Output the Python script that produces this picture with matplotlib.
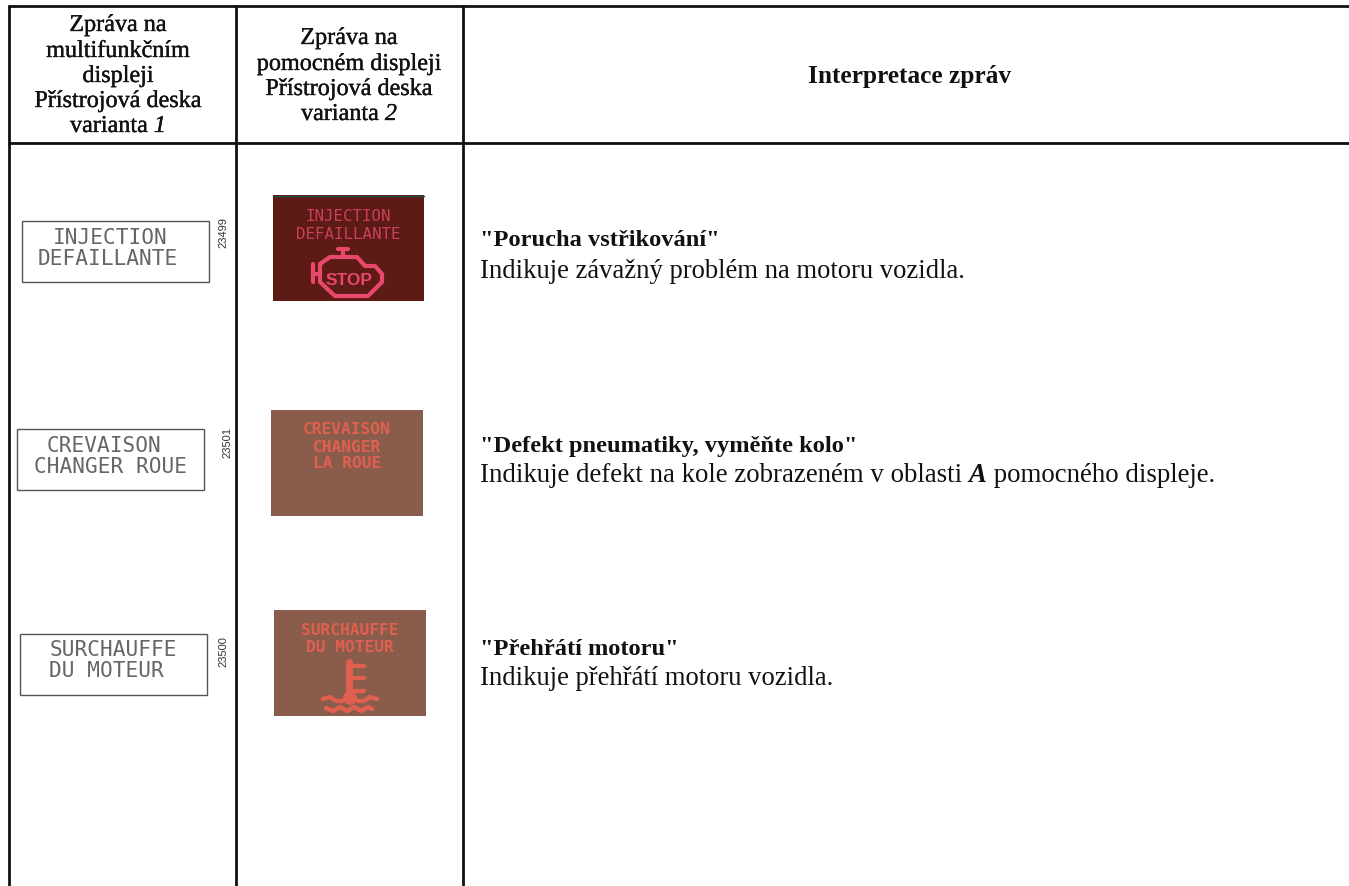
import matplotlib
matplotlib.use('Agg')
import matplotlib.pyplot as plt
import matplotlib.patheffects as pe
from matplotlib.patches import Rectangle, Circle

plt.rcParams['font.family'] = ['Liberation Serif', 'DejaVu Serif']

W, H = 1349, 887
BODY = 19.2
TITLE = 17.6
HEAD = 17.4
INK = '#111111'
SEMI = [pe.withStroke(linewidth=0.25, foreground=INK)]

header_1 = ['Zpráva na', 'multifunkčním', 'displeji', 'Přístrojová deska']
header_2 = ['Zpráva na', 'pomocném displeji', 'Přístrojová deska']
header_3 = 'Interpretace zpráv'
variant_word = 'varianta '
variant_nums = ['1', '2']
titles = ['"Porucha vstřikování"', '"Defekt pneumatiky, vyměňte kolo"', '"Přehřátí motoru"']
body_1 = 'Indikuje závažný problém na motoru vozidla.'
body_2a = 'Indikuje defekt na kole zobrazeném v oblasti '
body_2b = 'A'
body_2c = ' pomocného displeje.'
body_3 = 'Indikuje přehřátí motoru vozidla.'
mono_lines = [['INJECTION', 'DEFAILLANTE'], ['CREVAISON', 'CHANGER ROUE'], ['SURCHAUFFE', 'DU MOTEUR']]
panel_lines = [['INJECTION', 'DEFAILLANTE'], ['CREVAISON', 'CHANGER', 'LA ROUE'], ['SURCHAUFFE', 'DU MOTEUR']]
serials = ['23499', '23501', '23500']

fig = plt.figure(figsize=(W / 100, H / 100), dpi=100)
ax = fig.add_axes([0, 0, 1, 1])
ax.set_xlim(0, W)
ax.set_ylim(H, 0)
ax.axis('off')


def width(s, **kw):
    r = fig.canvas.get_renderer()
    t = ax.text(0, 0, s + '|', **kw)
    a = t.get_window_extent(r).width
    t.set_text('|')
    b = t.get_window_extent(r).width
    t.remove()
    return a - b


def runs(x, y, parts, effects=None):
    for s, kw in parts:
        ax.text(x, y, s, va='baseline', ha='left', color=INK, path_effects=effects, **kw)
        x += width(s, **kw)


def centred_variant(xc, y, num):
    a = dict(fontsize=HEAD)
    b = dict(fontsize=HEAD, fontstyle='italic')
    w = width(variant_word, **a) + width(num, **b)
    runs(xc - w / 2, y, [(variant_word, a), (num, b)], SEMI)


# table rules
for x in [9, 236, 463]:
    ax.plot([x, x], [6, H], color=INK, lw=2.0, solid_capstyle='butt')
for y in [7, 144]:
    ax.plot([8, W], [y, y], color=INK, lw=2.0, solid_capstyle='butt')

# header
for y, s in zip([32, 58, 83, 108], header_1):
    ax.text(118, y, s, ha='center', va='baseline', fontsize=HEAD, color=INK, path_effects=SEMI)
centred_variant(118, 133, variant_nums[0])
for y, s in zip([45, 71, 96], header_2):
    ax.text(349, y, s, ha='center', va='baseline', fontsize=HEAD, color=INK, path_effects=SEMI)
centred_variant(349, 121, variant_nums[1])
ax.text(910, 83, header_3, ha='center', va='baseline', fontsize=18.3, fontweight='bold', color=INK)

# right column
for y, s in zip([246, 452, 655], titles):
    ax.text(480, y, s, va='baseline', fontsize=TITLE, fontweight='bold', color=INK)
ax.text(480, 278, body_1, va='baseline', fontsize=BODY, color=INK)
runs(480, 482, [(body_2a, dict(fontsize=19.4)),
                (body_2b, dict(fontsize=19.4, fontweight='bold', fontstyle='italic')),
                (body_2c, dict(fontsize=19.4))])
ax.text(480, 685, body_3, va='baseline', fontsize=BODY, color=INK)

# white display boxes
boxes = [(22, 222), (17, 430), (20, 635)]
text_x = [[110, 108], [104, 110], [113, 106]]
mono_base = [[244, 265], [452, 473], [656, 677]]
serial_pos = [(223, 233), (227, 443), (223, 652)]
for (bx, by), xs, bases, lines in zip(boxes, text_x, mono_base, mono_lines):
    ax.add_patch(Rectangle((bx, by), 187, 61, fc='white', ec='#555555', lw=1.0))
    for tx, b, s in zip(xs, bases, lines):
        ax.text(tx, b, s, ha='center', va='baseline', family='DejaVu Sans Mono', fontsize=15.2, color='#666666')
for (sx, sy), s in zip(serial_pos, serials):
    ax.text(sx, sy, s, rotation=90, ha='center', va='center', family='Liberation Sans', fontsize=8, color='#333333')

# coloured panels
panels = [(273, 196, 151, 106), (271, 411, 152, 106), (274, 611, 152, 106)]
panel_col = ['#5e1b15', '#8a5c4b', '#8a5c4b']
ink_col = ['#c9405c', '#e0604f', '#e0604f']
panel_bases = [[221, 239], [434, 452, 468], [635, 652]]
panel_size = [11.3, 11.7, 11.7]
panel_weight = ['normal', 'bold', 'bold']
for (px, py, pw, ph), pc, ic, bases, lines, sz, wt in zip(panels, panel_col, ink_col, panel_bases,
                                                          panel_lines, panel_size, panel_weight):
    ax.add_patch(Rectangle((px, py), pw, ph, fc=pc, ec='none'))
    for b, s in zip(bases, lines):
        ax.text(px + pw / 2, b, s, ha='center', va='baseline', family='DejaVu Sans Mono',
                fontweight=wt, fontsize=sz, color=ic)
ax.plot([273, 424], [196.5, 196.5], color='#1f4a48', lw=1)

# engine icon
eng = dict(color='#e8486c', lw=3, solid_capstyle='round', solid_joinstyle='round')
ax.plot([320, 330, 357, 365, 375, 382, 382, 373, 368, 335, 320, 320],
        [265, 258, 258, 267, 267, 275, 283, 292, 297, 297, 283, 265], **eng)
ax.plot([313, 313], [265, 283], **eng)
ax.plot([313, 320], [275, 275], **eng)
ax.plot([343, 343], [250, 257], **eng)
ax.plot([338, 348], [250, 250], **eng)
ax.text(349, 285, 'STOP', ha='center', va='baseline', family='Liberation Sans', fontweight='bold',
        fontsize=12.5, color='#e8486c')

# temperature icon
tmp = dict(color='#e0604f', lw=3.2, solid_capstyle='round', solid_joinstyle='round')
ax.plot([349, 349], [663, 697], color='#e0604f', lw=5, solid_capstyle='round')
ax.add_patch(Circle((350, 699), 7, fc='#e0604f', ec='none'))
for y in [667, 679, 692]:
    ax.plot([353, 364], [y, y], **tmp)
ax.plot([323, 330, 336, 342], [700, 698, 702, 702], **tmp)
ax.plot([358, 364, 370, 377], [702, 702, 698, 700], **tmp)
ax.plot([326, 333, 340, 347, 354, 361, 368, 372], [709, 712, 708, 712, 708, 712, 708, 710], **tmp)

fig.savefig('out.png', dpi=100)
